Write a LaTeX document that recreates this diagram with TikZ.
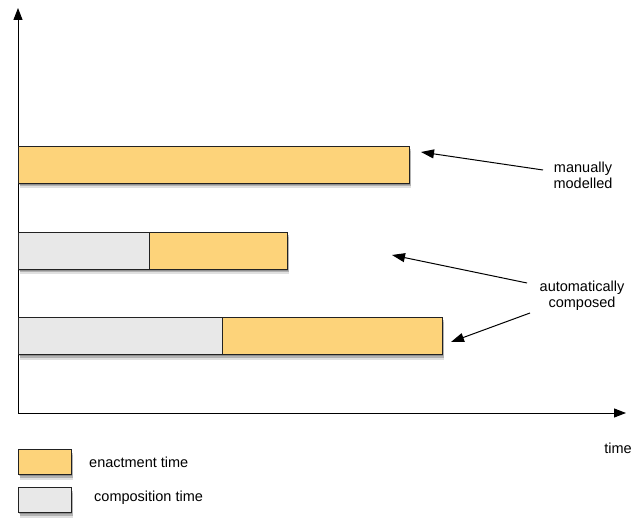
\documentclass[tikz,border=0pt]{standalone}
\usepackage{fontspec}
\setmainfont{Liberation Sans}
\usetikzlibrary{arrows.meta,shadows}
\definecolor{enact}{HTML}{FDD37A}
\definecolor{compo}{HTML}{E8E8E8}
\definecolor{edge}{HTML}{222222}
\tikzset{
  barbox/.style={draw=edge, line width=1pt, inner sep=0pt, anchor=north west,
    drop shadow={shadow xshift=0.5pt, shadow yshift=-1.5pt, opacity=0.2, fill=black},
    drop shadow={shadow xshift=1pt, shadow yshift=-3pt, opacity=0.2, fill=black},
    drop shadow={shadow xshift=1.5pt, shadow yshift=-5pt, opacity=0.12, fill=black}},
  enactbox/.style={barbox, fill=enact},
  compobox/.style={barbox, fill=compo},
  lbl/.style={font=\fontsize{14.5}{16}\selectfont, align=center, inner sep=0pt},
  axis/.style={line width=1pt, -{Triangle[length=12pt,width=9pt]}},
  pointer/.style={line width=1pt, -{Triangle[length=13pt,width=9pt]}}
}
\begin{document}
\begin{tikzpicture}[x=1pt,y=-1pt]
\useasboundingbox (0,0) rectangle (634,518);
% axes
\coordinate (origin) at (18,413);
\coordinate (ytop) at (18,8);
\coordinate (xend) at (626,413);
\draw[axis] (origin) -- (ytop);
\draw[axis] (origin) -- (xend);
\node[lbl, anchor=center] (timelbl) at (618,448) {time};
% bars
\node[enactbox, minimum width=391pt, minimum height=37pt] (b1) at (18,146) {};
\node[compobox, minimum width=131pt, minimum height=37pt] (b2a) at (18,232) {};
\node[enactbox, minimum width=138pt, minimum height=37pt] (b2b) at (149,232) {};
\node[compobox, minimum width=204pt, minimum height=37pt] (b3a) at (18,317) {};
\node[enactbox, minimum width=220pt, minimum height=37pt] (b3b) at (222,317) {};
% labels
\node[lbl] (man) at (583,175) {manually\\modelled};
\node[lbl] (aut) at (582,296) {automatically\\composed};
% arrows
\coordinate (t1) at (543,170);
\coordinate (h1) at (421,152);
\coordinate (t2) at (527,283);
\coordinate (h2) at (392,255);
\coordinate (t3) at (530,313);
\coordinate (h3) at (451,342);
\draw[pointer] (t1) -- (h1);
\draw[pointer] (t2) -- (h2);
\draw[pointer] (t3) -- (h3);
% legend
\node[enactbox, minimum width=53pt, minimum height=25pt] (leg1) at (18,449) {};
\node[compobox, minimum width=53pt, minimum height=25pt] (leg2) at (18,487) {};
\node[lbl, anchor=west] (leg1t) at (89,462) {enactment time};
\node[lbl, anchor=west] (leg2t) at (94,498) {composition time};
\end{tikzpicture}
\end{document}
